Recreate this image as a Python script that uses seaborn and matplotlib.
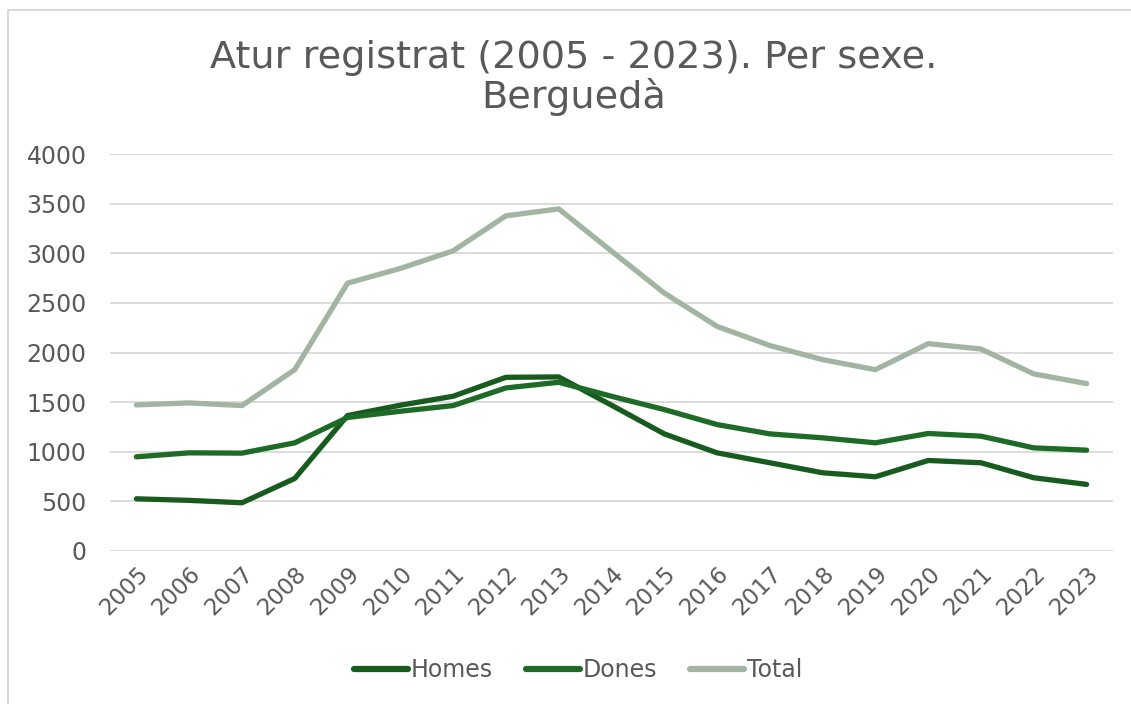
import matplotlib
matplotlib.use("Agg")
import matplotlib.pyplot as plt
import seaborn as sns
import pandas as pd
from matplotlib.patches import Rectangle

years = [str(y) for y in range(2005, 2024)]
homes = [526, 510, 486, 731, 1365, 1469, 1559, 1750, 1754, 1469, 1180, 989, 889, 788, 748, 912, 889, 738, 671]
dones = [949, 989, 986, 1090, 1345, 1408, 1465, 1643, 1700, 1559, 1425, 1274, 1180, 1140, 1090, 1184, 1157, 1039, 1016]
total = [1472, 1492, 1465, 1827, 2699, 2847, 3024, 3377, 3447, 3021, 2599, 2263, 2070, 1928, 1827, 2089, 2035, 1784, 1687]
series_names = ["Homes", "Dones", "Total"]
colors = ["#175c1e", "#1d6b26", "#a2b5a2"]

df = pd.DataFrame({
    "Any": years * 3,
    "Valor": homes + dones + total,
    "Serie": [series_names[0]] * len(years) + [series_names[1]] * len(years) + [series_names[2]] * len(years),
})
df["pos"] = list(range(len(years))) * 3

sns.set_theme(style="white")
plt.rcParams["font.family"] = ["DejaVu Sans"]
txt = "#595959"

fig = plt.figure(figsize=(11.31, 7.04), dpi=100)
ax = fig.add_axes([110 / 1131, 1 - 551 / 704, (1113 - 110) / 1131, (551 - 154) / 704])

sns.lineplot(data=df, x="pos", y="Valor", hue="Serie", palette=colors,
             linewidth=3.8, ax=ax, legend=True, solid_capstyle="round")

ax.set_xlim(-0.5, len(years) - 0.5)
ax.set_ylim(0, 4000)
ax.set_yticks(range(0, 4001, 500))
ax.set_xticks(range(len(years)))
ax.set_xticklabels(years, rotation=45, ha="right", rotation_mode="anchor")
ax.tick_params(axis="x", labelsize=16.5, colors=txt, length=0, pad=8)
ax.tick_params(axis="y", labelsize=17, colors=txt, length=0, pad=17)
ax.grid(axis="y", color="#d9d9d9", linewidth=1.3)
ax.grid(axis="x", visible=False)
for s in ax.spines.values():
    s.set_visible(False)
ax.set_xlabel("")
ax.set_ylabel("")

leg = ax.legend(loc="center", bbox_to_anchor=((578 - 110) / 1003, (551 - 670) / (551 - 154)),
                ncol=3, frameon=False, fontsize=17, handlelength=2.3,
                handletextpad=0.1, columnspacing=1.4)
for t in leg.get_texts():
    t.set_color(txt)
for l in leg.get_lines():
    l.set_linewidth(4.5)

fig.text(574 / 1131, 1 - 78 / 704, "Atur registrat (2005 - 2023). Per sexe.\nBerguedà",
         ha="center", va="center", fontsize=27.5, color=txt, linespacing=1.1)

fig.patches.append(Rectangle((8 / 1131, -0.01), 1.02, 1 - 10 / 704 + 0.01,
                             transform=fig.transFigure, fill=False,
                             edgecolor="#d9d9d9", linewidth=1.5))

fig.savefig("out.png", dpi=100)
